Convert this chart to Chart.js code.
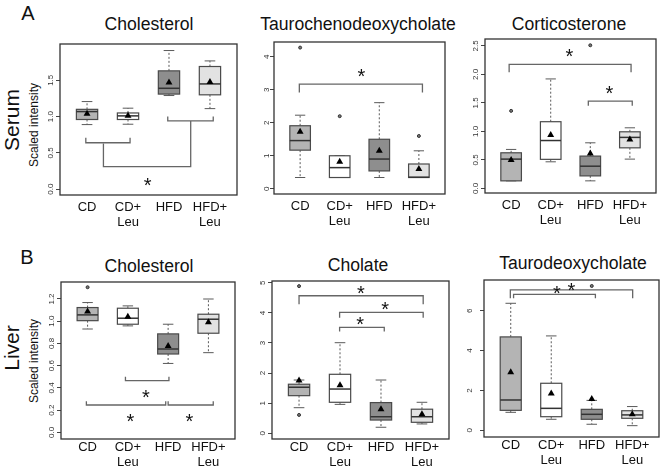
<!DOCTYPE html>
<html>
<head>
<meta charset="utf-8">
<script src="https://cdn.jsdelivr.net/npm/chart.js@4.4.0/dist/chart.umd.min.js"></script>
<style>
  body { margin: 0; background: #fff; width: 662px; height: 472px; position: relative; overflow: hidden;
         font-family: "Liberation Sans", Arial, sans-serif; }
  canvas { position: absolute; }
  .t { position: absolute; line-height: 1; white-space: nowrap; color: #111;
       transform: translate(-50%, -50%); }
  .r { transform: translate(-50%, -50%) rotate(-90deg); }
</style>
</head>
<body>
<div class="t" style="left:28px;top:13px;font-size:20px">A</div>
<div class="t" style="left:27px;top:257px;font-size:20px">B</div>
<div class="t r" style="left:11px;top:120px;font-size:21px">Serum</div>
<div class="t r" style="left:11px;top:348px;font-size:21px">Liver</div>
<div class="t r" style="left:34px;top:125px;font-size:12px">Scaled intensity</div>
<div class="t r" style="left:34px;top:361px;font-size:12px">Scaled intensity</div>
<div class="t" style="left:149px;top:24.5px;font-size:17.6px">Cholesterol</div>
<div class="t" style="left:358px;top:24.5px;font-size:17.6px">Taurochenodeoxycholate</div>
<div class="t" style="left:569px;top:24.5px;font-size:17.6px">Corticosterone</div>
<div class="t" style="left:149px;top:267px;font-size:17.6px">Cholesterol</div>
<div class="t" style="left:358px;top:266px;font-size:17.6px">Cholate</div>
<div class="t" style="left:573px;top:263.5px;font-size:17.6px">Taurodeoxycholate</div>

<script>
// groups on the x axis
const groupLabels = [['CD'], ['CD+', 'Leu'], ['HFD'], ['HFD+', 'Leu']];

// each box: [lower whisker, Q1, median, Q3, upper whisker]
// outliers: [group, value]; brackets: polylines in (group, value); stars: [group, value]

// Serum - Cholesterol
const serumCholBoxes = [[0.89, 0.96, 1.069, 1.10, 1.207], [0.895, 0.96, 1.01, 1.05, 1.116],
                        [1.29, 1.31, 1.39, 1.63, 1.91], [1.11, 1.30, 1.45, 1.69, 1.767]];
const serumCholMeans = [1.04, 1.01, 1.47, 1.478];
const serumCholOutliers = [];
const serumCholTicks = [0, 0.5, 1.0, 1.5];
const serumCholBrackets = [
  [[0.97, 0.71], [0.97, 0.64], [2.05, 0.64], [2.05, 0.71]],
  [[2.97, 1.0], [2.97, 0.94], [4.08, 0.94], [4.08, 1.0]],
  [[1.40, 0.63], [1.40, 0.31], [3.53, 0.31], [3.53, 0.94]]
];
const serumCholStars = [[2.48, 0.105]];

// Serum - Taurochenodeoxycholate
const serumTcdcaBoxes = [[0.34, 1.17, 1.46, 1.91, 2.23], [0.34, 0.34, 0.64, 1.0, 1.0],
                         [0.34, 0.54, 0.90, 1.50, 2.61], [0.34, 0.34, 0.35, 0.75, 1.15]];
const serumTcdcaMeans = [1.73, 0.82, 1.15, 0.60];
const serumTcdcaOutliers = [[1, 4.28], [2, 2.2], [4, 1.6]];
const serumTcdcaTicks = [0, 1, 2, 3, 4];
const serumTcdcaBrackets = [
  [[0.98, 2.92], [0.98, 3.17], [4.09, 3.17], [4.09, 2.92]]
];
const serumTcdcaStars = [[2.55, 3.5]];

// Serum - Corticosterone
const serumCortBoxes = [[0.133, 0.133, 0.514, 0.625, 0.684], [0.467, 0.51, 0.84, 1.17, 1.92],
                        [0.133, 0.22, 0.39, 0.567, 0.80], [0.514, 0.712, 0.895, 0.993, 1.063]];
const serumCortMeans = [0.497, 0.935, 0.614, 0.86];
const serumCortOutliers = [[1, 1.36], [3, 2.51]];
const serumCortTicks = [0, 0.5, 1.0, 1.5, 2.0, 2.5];
const serumCortBrackets = [
  [[0.95, 2.035], [0.95, 2.175], [4.03, 2.175], [4.03, 2.035]],
  [[2.95, 1.45], [2.95, 1.53], [4.06, 1.53], [4.06, 1.45]]
];
const serumCortStars = [[2.47, 2.37], [3.48, 1.725]];

// Liver - Cholesterol
const liverCholBoxes = [[0.93, 1.005, 1.057, 1.123, 1.168], [0.958, 0.973, 1.027, 1.117, 1.138],
                        [0.62, 0.705, 0.75, 0.886, 0.973], [0.717, 0.892, 1.018, 1.063, 1.20]];
const liverCholMeans = [1.087, 1.04, 0.777, 0.99];
const liverCholOutliers = [[1, 1.306]];
const liverCholTicks = [0, 0.2, 0.4, 0.6, 0.8, 1.0, 1.2];
const liverCholBrackets = [
  [[1.94, 0.50], [1.94, 0.465], [3.02, 0.465], [3.02, 0.50]],
  [[0.97, 0.28], [0.97, 0.246], [2.94, 0.246], [2.94, 0.28]],
  [[3.0, 0.28], [3.0, 0.246], [4.12, 0.246], [4.12, 0.28]]
];
const liverCholStars = [[2.45, 0.345], [2.06, 0.126], [3.53, 0.126]];

// Liver - Cholate
const liverCaBoxes = [[0.85, 1.25, 1.53, 1.63, 1.77], [0.96, 1.03, 1.47, 1.96, 3.01],
                      [0.20, 0.44, 0.55, 1.02, 1.77], [0.31, 0.365, 0.55, 0.80, 1.03]];
const liverCaMeans = [1.75, 1.60, 0.80, 0.63];
const liverCaOutliers = [[1, 4.89], [1, 0.61]];
const liverCaTicks = [0, 1, 2, 3, 4, 5];
const liverCaBrackets = [
  [[1.0, 4.29], [1.0, 4.57], [4.03, 4.57], [4.03, 4.29]],
  [[1.99, 3.84], [1.99, 4.02], [4.03, 4.02], [4.03, 3.84]],
  [[1.99, 3.38], [1.99, 3.52], [3.08, 3.52], [3.08, 3.38]]
];
const liverCaStars = [[2.51, 4.76], [3.1, 4.24], [2.49, 3.74]];

// Liver - Taurodeoxycholate
const liverTdcaBoxes = [[0.90, 1.0, 1.52, 4.69, 6.38], [0.55, 0.68, 1.10, 2.36, 4.74],
                        [0.30, 0.55, 0.80, 1.05, 1.50], [0.23, 0.60, 0.77, 0.98, 1.19]];
const liverTdcaMeans = [2.91, 1.84, 1.57, 0.80];
const liverTdcaOutliers = [[3, 7.25]];
const liverTdcaTicks = [0, 2, 4, 6];
const liverTdcaBrackets = [
  [[0.99, 6.63], [0.99, 7.05], [4.01, 7.05], [4.01, 6.63]],
  [[1.07, 6.63], [1.07, 6.83], [3.09, 6.83], [3.09, 6.63]]
];
const liverTdcaStars = [[2.5, 7.2], [2.14, 7.05]];

const boxFills = ['#b4b4b4', '#ffffff', '#8e8e8e', '#e2e2e2'];
const FONT = '"Liberation Sans", Arial, sans-serif';

const panels = [
  { rect: [60, 44, 237, 195], yMin: -0.08, yMax: 2.0, dec: 1, tickPad: 0, xPad: 5,
    boxes: serumCholBoxes, means: serumCholMeans, outliers: serumCholOutliers,
    ticks: serumCholTicks, brackets: serumCholBrackets, stars: serumCholStars },
  { rect: [274, 42, 445, 194], yMin: -0.16, yMax: 4.45, dec: 0, tickPad: 1, xPad: 5,
    boxes: serumTcdcaBoxes, means: serumTcdcaMeans, outliers: serumTcdcaOutliers,
    ticks: serumTcdcaTicks, brackets: serumTcdcaBrackets, stars: serumTcdcaStars },
  { rect: [485, 39, 656, 193], yMin: -0.08, yMax: 2.62, dec: 1, tickPad: 0, xPad: 5,
    boxes: serumCortBoxes, means: serumCortMeans, outliers: serumCortOutliers,
    ticks: serumCortTicks, brackets: serumCortBrackets, stars: serumCortStars },
  { rect: [61, 282, 235, 439], yMin: -0.06, yMax: 1.353, dec: 1, tickPad: 0, xPad: 1,
    boxes: liverCholBoxes, means: liverCholMeans, outliers: liverCholOutliers,
    ticks: liverCholTicks, brackets: liverCholBrackets, stars: liverCholStars },
  { rect: [272, 281, 449, 439], yMin: -0.19, yMax: 5.06, dec: 0, tickPad: 2.5, xPad: 1,
    boxes: liverCaBoxes, means: liverCaMeans, outliers: liverCaOutliers,
    ticks: liverCaTicks, brackets: liverCaBrackets, stars: liverCaStars },
  { rect: [484, 280, 659, 437], yMin: -0.34, yMax: 7.55, dec: 0, tickPad: 8, xPad: 1,
    boxes: liverTdcaBoxes, means: liverTdcaMeans, outliers: liverTdcaOutliers,
    ticks: liverTdcaTicks, brackets: liverTdcaBrackets, stars: liverTdcaStars }
];

const PAD_L = 30, PAD_T = 14, PAD_R = 6, PAD_B = 45;

// box plots, stars and frame drawn with the chart's scales
function makeBoxPlugin(p) {
  return {
    id: 'boxes',
    beforeDatasetsDraw(chart) {
      const { ctx, scales: { x, y } } = chart;
      ctx.save();
      p.boxes.forEach((b, i) => {
        const cx = x.getPixelForValue(i + 1);
        const hw = x.getPixelForValue(i + 1.26) - cx;
        const cw = hw / 2;
        const [lo, q1, med, q3, hi] = b.map(v => y.getPixelForValue(v));
        ctx.strokeStyle = '#5a5a5a';
        ctx.lineWidth = 1;
        ctx.setLineDash([2, 2]);
        ctx.beginPath();
        ctx.moveTo(cx, q3); ctx.lineTo(cx, hi);
        ctx.moveTo(cx, q1); ctx.lineTo(cx, lo);
        ctx.stroke();
        ctx.setLineDash([]);
        ctx.beginPath();
        ctx.moveTo(cx - cw, hi); ctx.lineTo(cx + cw, hi);
        ctx.moveTo(cx - cw, lo); ctx.lineTo(cx + cw, lo);
        ctx.stroke();
        ctx.fillStyle = boxFills[i];
        ctx.fillRect(cx - hw, q3, 2 * hw, q1 - q3);
        ctx.strokeStyle = '#4a4a4a';
        ctx.lineWidth = 1.2;
        ctx.strokeRect(cx - hw, q3, 2 * hw, q1 - q3);
        ctx.strokeStyle = '#333';
        ctx.lineWidth = 1.5;
        ctx.beginPath();
        ctx.moveTo(cx - hw, med); ctx.lineTo(cx + hw, med);
        ctx.stroke();
      });
      ctx.restore();
    },
    afterDatasetsDraw(chart) {
      const { ctx, chartArea: a, scales: { x, y } } = chart;
      ctx.save();
      ctx.fillStyle = '#111';
      ctx.font = '20px ' + FONT;
      ctx.textAlign = 'center';
      ctx.textBaseline = 'alphabetic';
      const m = ctx.measureText('*');
      p.stars.forEach(s => {
        const px = x.getPixelForValue(s[0]);
        const py = y.getPixelForValue(s[1]);
        ctx.fillText('*', px, py + (m.actualBoundingBoxAscent - m.actualBoundingBoxDescent) / 2);
      });
      ctx.strokeStyle = '#333';
      ctx.lineWidth = 1.3;
      ctx.strokeRect(a.left, a.top, a.right - a.left, a.bottom - a.top);
      ctx.restore();
    }
  };
}

panels.forEach(p => {
  const [L, T, R, B] = p.rect;
  const canvas = document.createElement('canvas');
  const w = R - L + PAD_L + PAD_R;
  const h = B - T + PAD_T + PAD_B;
  canvas.width = w;
  canvas.height = h;
  canvas.style.left = (L - PAD_L) + 'px';
  canvas.style.top = (T - PAD_T) + 'px';
  canvas.style.width = w + 'px';
  canvas.style.height = h + 'px';
  document.body.appendChild(canvas);

  const datasets = [];
  p.brackets.forEach(br => {
    datasets.push({
      data: br.map(pt => ({ x: pt[0], y: pt[1] })),
      showLine: true,
      pointRadius: 0,
      borderColor: '#666',
      borderWidth: 1.3,
      tension: 0
    });
  });
  datasets.push({
    data: p.outliers.map(o => ({ x: o[0], y: o[1] })),
    pointStyle: 'circle',
    pointRadius: 1.5,
    backgroundColor: '#777',
    borderColor: '#333',
    borderWidth: 1
  });
  datasets.push({
    data: p.means.map((v, i) => ({ x: i + 1, y: v })),
    pointStyle: 'triangle',
    pointRadius: 4,
    backgroundColor: '#000',
    borderColor: '#000',
    borderWidth: 0
  });

  new Chart(canvas, {
    type: 'scatter',
    data: { datasets },
    options: {
      responsive: false,
      animation: false,
      events: [],
      layout: { padding: { left: 0, top: PAD_T, right: PAD_R, bottom: 0 } },
      plugins: { legend: { display: false }, tooltip: { enabled: false } },
      scales: {
        x: {
          type: 'linear',
          min: 0.34,
          max: 4.66,
          afterBuildTicks: s => { s.ticks = [1, 2, 3, 4].map(v => ({ value: v })); },
          afterFit: s => { s.height = PAD_B; },
          grid: { display: false, drawTicks: false },
          border: { display: false },
          ticks: {
            autoSkip: false,
            maxRotation: 0,
            padding: p.xPad,
            color: '#111',
            font: { family: FONT, size: 13, lineHeight: 1.15 },
            callback: v => groupLabels[v - 1]
          }
        },
        y: {
          type: 'linear',
          min: p.yMin,
          max: p.yMax,
          afterBuildTicks: s => { s.ticks = p.ticks.map(v => ({ value: v })); },
          afterFit: s => { s.width = PAD_L; },
          grid: { drawOnChartArea: false, drawTicks: true, tickLength: 4, color: '#444' },
          border: { display: false },
          ticks: {
            autoSkip: false,
            minRotation: 90,
            maxRotation: 90,
            crossAlign: 'center',
            padding: p.tickPad,
            color: '#333',
            font: { family: FONT, size: 8 },
            callback: v => v.toFixed(p.dec)
          }
        }
      }
    },
    plugins: [makeBoxPlugin(p)]
  });
});
</script>
</body>
</html>
